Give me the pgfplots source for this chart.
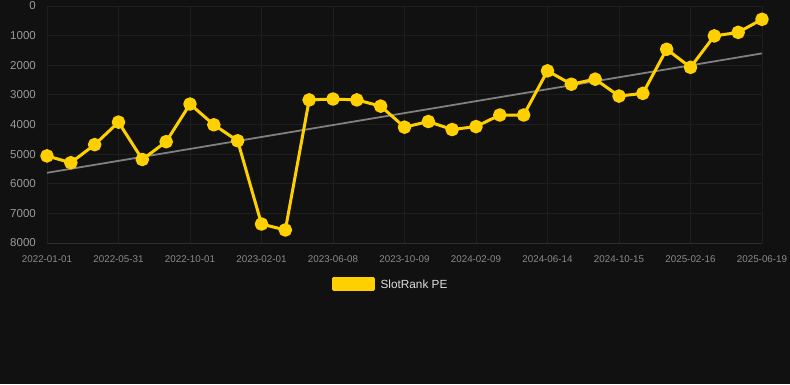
\documentclass[border=0pt]{standalone}
\usepackage{pgfplots}
\pgfplotsset{compat=1.18}
\usepackage{fontspec}
\setmainfont{Liberation Sans}
\definecolor{bg}{HTML}{111111}
\definecolor{gridc}{HTML}{1E1E1E}
\definecolor{axisc}{HTML}{2E2E2E}
\definecolor{ylw}{HTML}{FFD000}
\definecolor{trend}{HTML}{808080}
\definecolor{ytick}{HTML}{9A9A9A}
\definecolor{xtick}{HTML}{8A8A8A}
\definecolor{legtext}{HTML}{DDDDDD}
\begin{document}
\begin{tikzpicture}
\fill[bg] (0pt,0pt) rectangle (790pt,384pt);
\begin{axis}[
  at={(404.5pt,259.5pt)}, anchor=center,
  scale only axis, width=715pt, height=237pt,
  xmin=0, xmax=30, ymin=0, ymax=8000,
  y dir=reverse,
  axis x line*=bottom, axis y line*=left,
  x axis line style={axisc, line width=1pt, -},
  y axis line style={draw=none, -},
  xtick style={draw=none},
  ytick style={draw=none},
  grid=major,
  grid style={gridc, line width=1pt},
  xtick={0,3,...,30},
  xticklabels={2022-01-01,2022-05-31,2022-10-01,2023-02-01,2023-06-08,2023-10-09,2024-02-09,2024-06-14,2024-10-15,2025-02-16,2025-06-19},
  ytick={0,1000,...,8000},
  /pgf/number format/assume math mode=true,
  /pgf/number format/set thousands separator={},
  yticklabel style={font=\fontsize{11.5}{12}\selectfont, text=ytick, inner sep=0pt, anchor=east, xshift=-11pt},
  xticklabel style={font=\fontsize{9.8}{10}\selectfont, text=xtick, inner sep=0pt, anchor=north, yshift=-12pt},
  clip=false,
  legend style={at={(0.479,-0.175)}, anchor=center, draw=none, fill=none, inner sep=0pt, outer sep=0pt,
    text=legtext, font=\fontsize{11.8}{12}\selectfont, nodes={inner sep=0pt},
    /tikz/every odd column/.append style={column sep=6pt}},
  legend image code/.code={\fill[ylw] (0pt,-5.5pt) rectangle (40pt,5.5pt);},
]
\addplot[trend, line width=1.8pt, forget plot] coordinates {(0,5630) (30,1600)};
\addplot[ylw, line width=3pt, line join=round, line cap=round, mark=*, mark size=5.3pt, mark options={fill=ylw, draw=none}] coordinates {
(0,5060) (1,5290) (2,4680) (3,3920) (4,5180) (5,4580) (6,3310) (7,4010) (8,4550) (9,7360)
(10,7560) (11,3170) (12,3140) (13,3170) (14,3380) (15,4090) (16,3900) (17,4170) (18,4070) (19,3680)
(20,3680) (21,2190) (22,2640) (23,2470) (24,3040) (25,2950) (26,1460) (27,2070) (28,1010) (29,890)
(30,450)};
\addlegendentry{SlotRank PE}
\end{axis}
\end{tikzpicture}
\end{document}
